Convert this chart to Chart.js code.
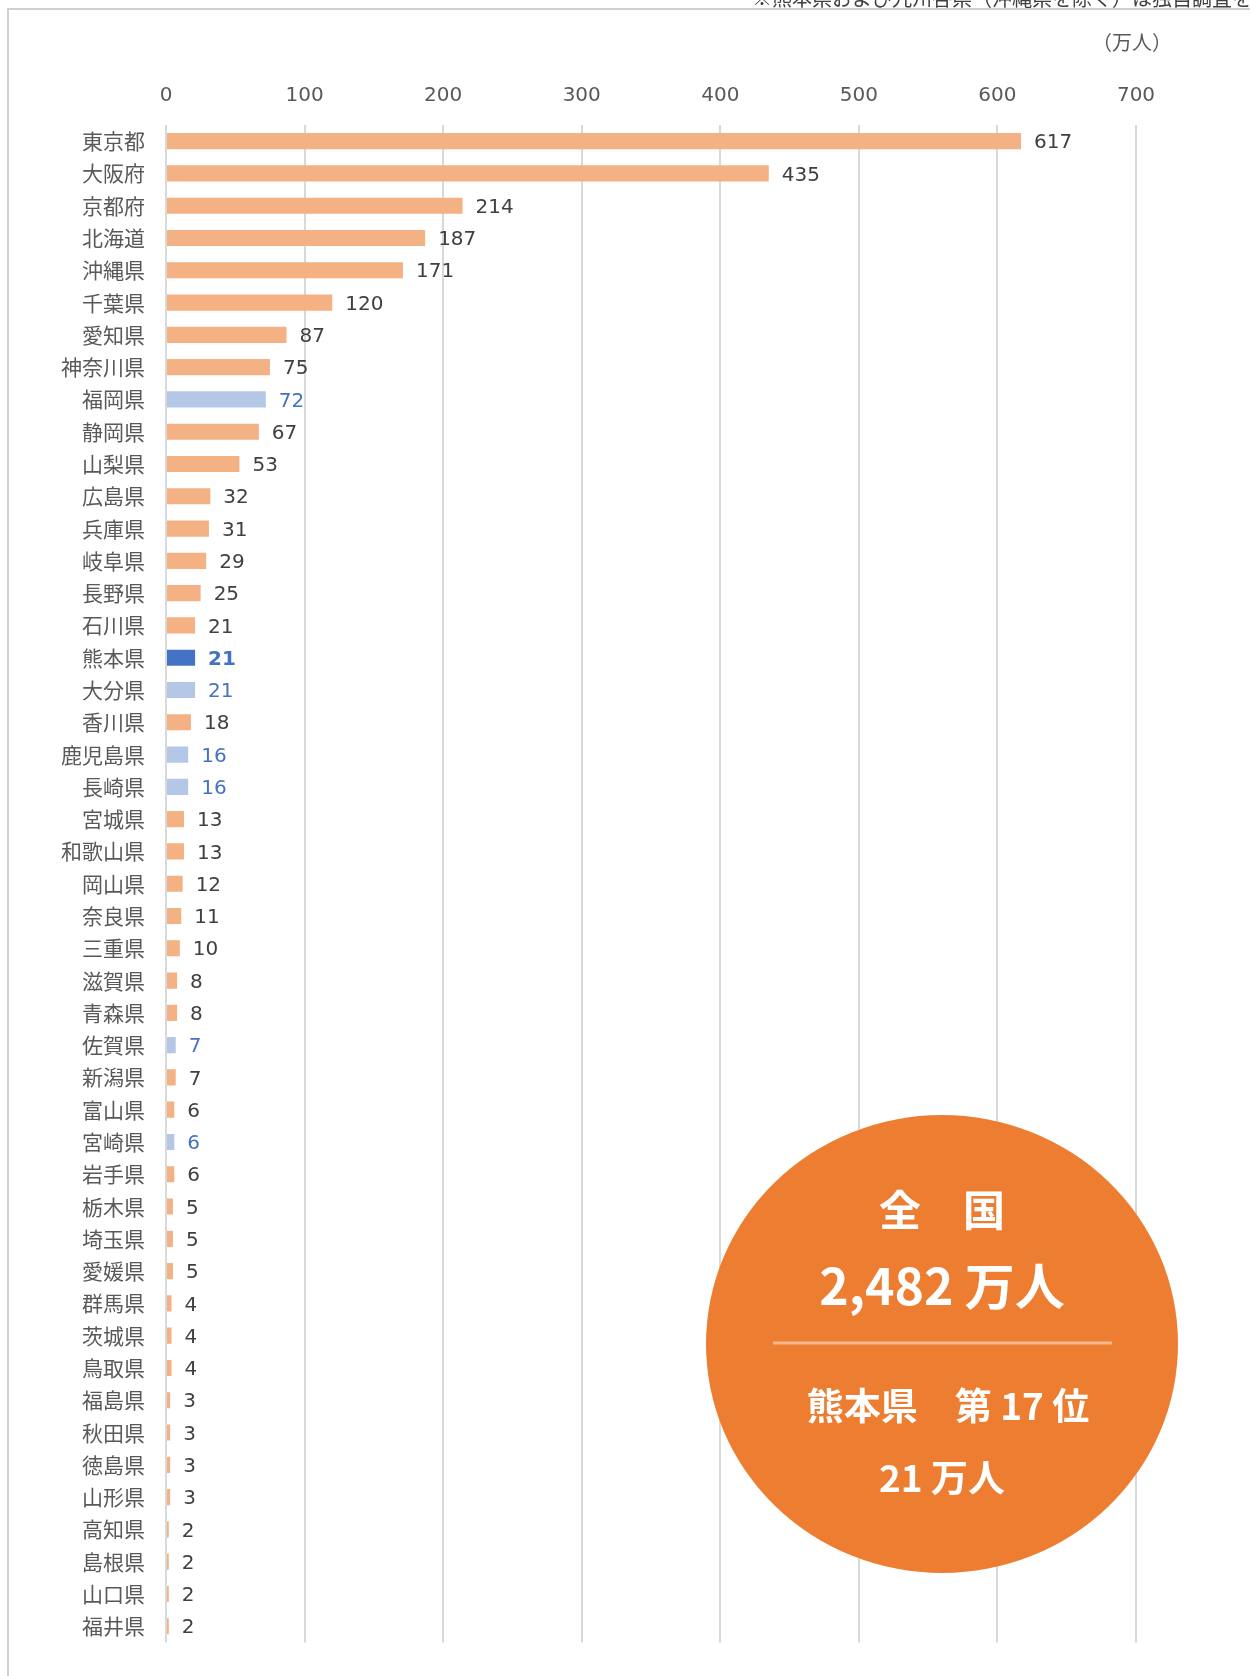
<!DOCTYPE html>
<html lang="ja">
<head>
<meta charset="utf-8">
<title>都道府県別 人数</title>
<script src="https://cdn.jsdelivr.net/npm/chart.js@4.4.1/dist/chart.umd.min.js"></script>
<style>
  html, body { margin: 0; padding: 0; background: #fff; }
  #wrap { width: 1250px; height: 1676px; position: relative; }
</style>
</head>
<body>
<div id="wrap"><canvas id="chart" width="1250" height="1676"></canvas></div>
<script>
const prefectures = [
  "東京都", "大阪府", "京都府", "北海道", "沖縄県", "千葉県", "愛知県", "神奈川県",
  "福岡県", "静岡県", "山梨県", "広島県", "兵庫県", "岐阜県", "長野県", "石川県",
  "熊本県", "大分県", "香川県", "鹿児島県", "長崎県", "宮城県", "和歌山県", "岡山県",
  "奈良県", "三重県", "滋賀県", "青森県", "佐賀県", "新潟県", "富山県", "宮崎県",
  "岩手県", "栃木県", "埼玉県", "愛媛県", "群馬県", "茨城県", "鳥取県", "福島県",
  "秋田県", "徳島県", "山形県", "高知県", "島根県", "山口県", "福井県"
];
const values = [
  617, 435, 214, 187, 171, 120, 87, 75,
  72, 67, 53, 32, 31, 29, 25, 21,
  21, 21, 18, 16, 16, 13, 13, 12,
  11, 10, 8, 8, 7, 7, 6, 6,
  6, 5, 5, 5, 4, 4, 4, 3,
  3, 3, 3, 2, 2, 2, 2
];
// 九州各県（沖縄県を除く）
const kyushu = ["福岡県", "大分県", "鹿児島県", "長崎県", "佐賀県", "宮崎県"];
const highlight = "熊本県";
const xTicks = [0, 100, 200, 300, 400, 500, 600, 700];

const totalText = "2,482 万人";
const rankText = "熊本県　第 17 位";
const kumamotoText = "21 万人";

const ORANGE_BAR = "#F4B183";
const BLUE_LIGHT = "#B4C7E7";
const BLUE = "#4472C4";
const NUM_FONT = '"DejaVu Sans", "Noto Sans CJK JP", sans-serif';
const JP_FONT = '"Noto Sans CJK JP", sans-serif';

const barColors = prefectures.map(p => p === highlight ? BLUE : (kyushu.includes(p) ? BLUE_LIGHT : ORANGE_BAR));

const decorPlugin = {
  id: "decor",
  beforeDraw(chart) {
    const ctx = chart.ctx;
    ctx.save();
    ctx.fillStyle = "#fff";
    ctx.fillRect(0, 0, chart.width, chart.height);
    // frame
    ctx.strokeStyle = "#D0D0D0";
    ctx.lineWidth = 2;
    ctx.beginPath();
    ctx.moveTo(1260, 9);
    ctx.lineTo(8, 9);
    ctx.lineTo(8, 1690);
    ctx.stroke();
    // clipped note at the top
    ctx.fillStyle = "#404040";
    ctx.font = "20px " + JP_FONT;
    ctx.textAlign = "left";
    ctx.textBaseline = "bottom";
    ctx.fillText("※熊本県および九州各県（沖縄県を除く）は独自調査を集計", 752, 8);
    // unit
    ctx.fillStyle = "#595959";
    ctx.textAlign = "center";
    ctx.textBaseline = "middle";
    ctx.fillText("（万人）", 1132, 42);
    ctx.restore();
  },
  afterDatasetsDraw(chart) {
    const ctx = chart.ctx;
    const meta = chart.getDatasetMeta(0);
    ctx.save();
    ctx.textAlign = "left";
    ctx.textBaseline = "middle";
    meta.data.forEach((bar, i) => {
      const p = prefectures[i];
      const isHi = p === highlight;
      ctx.font = (isHi ? "bold " : "") + "20px " + NUM_FONT;
      ctx.fillStyle = (isHi || kyushu.includes(p)) ? BLUE : "#404040";
      ctx.fillText(String(values[i]), bar.x + 13, bar.y + 2);
    });
    ctx.restore();
  },
  afterDraw(chart) {
    const ctx = chart.ctx;
    ctx.save();
    ctx.fillStyle = "#ED7D31";
    ctx.beginPath();
    ctx.ellipse(942, 1344, 236, 229, 0, 0, Math.PI * 2);
    ctx.fill();
    ctx.strokeStyle = "rgba(255,255,255,0.45)";
    ctx.lineWidth = 3;
    ctx.beginPath();
    ctx.moveTo(773, 1343);
    ctx.lineTo(1112, 1343);
    ctx.stroke();
    ctx.fillStyle = "#fff";
    ctx.textAlign = "center";
    ctx.textBaseline = "middle";
    ctx.font = "bold 42px " + JP_FONT;
    ctx.fillText("全　国", 942, 1210);
    ctx.font = "bold 50px " + JP_FONT;
    ctx.fillText(totalText, 942, 1286);
    ctx.font = "bold 37px " + JP_FONT;
    ctx.fillText(rankText, 948, 1406);
    ctx.fillText(kumamotoText, 942, 1478);
    ctx.restore();
  }
};

new Chart(document.getElementById("chart").getContext("2d"), {
  type: "bar",
  data: {
    labels: prefectures,
    datasets: [{
      data: values,
      backgroundColor: barColors,
      barPercentage: 0.5,
      categoryPercentage: 1.0
    }]
  },
  options: {
    indexAxis: "y",
    responsive: false,
    animation: false,
    devicePixelRatio: 1,
    layout: { padding: { left: 0, right: 114, top: 0, bottom: 33 } },
    plugins: {
      legend: { display: false },
      tooltip: { enabled: false }
    },
    scales: {
      x: {
        position: "top",
        min: 0,
        max: 700,
        afterBuildTicks: scale => { scale.ticks = xTicks.map(v => ({ value: v })); },
        afterFit: scale => { scale.height = 125; },
        grid: { color: "#D9D9D9", lineWidth: 2, drawTicks: false },
        border: { display: false },
        ticks: { color: "#595959", padding: 17, font: { family: NUM_FONT, size: 20 } }
      },
      y: {
        afterFit: scale => { scale.width = 166; },
        grid: { display: false, drawTicks: false },
        border: { display: false },
        ticks: { color: "#595959", padding: 21, autoSkip: false, font: { family: JP_FONT, size: 21 } }
      }
    }
  },
  plugins: [decorPlugin]
});
</script>
</body>
</html>
